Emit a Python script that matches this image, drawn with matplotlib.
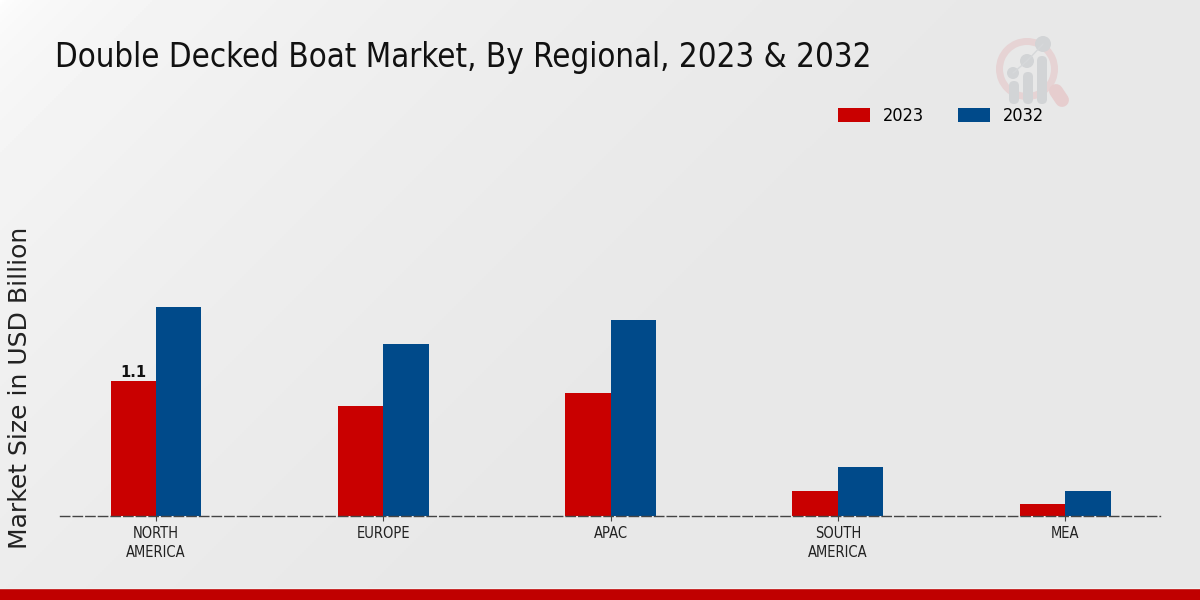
import matplotlib
matplotlib.use('Agg')
import matplotlib.pyplot as plt
import numpy as np
from matplotlib.patches import Circle, FancyBboxPatch, Wedge

regions = ['NORTH\nAMERICA', 'EUROPE', 'APAC', 'SOUTH\nAMERICA', 'MEA']
values_2023 = [1.1, 0.9, 1.0, 0.2, 0.1]
values_2032 = [1.7, 1.4, 1.6, 0.4, 0.2]
years = ['2023', '2032']

RED = '#C90000'
BLUE = '#004A8A'
W, H = 1200, 600

fig = plt.figure(figsize=(12, 6), dpi=100)

# background, pixel coords
bg = fig.add_axes([0, 0, 1, 1], zorder=0)
bg.axis('off')
xx, yy = np.meshgrid(np.linspace(0, 1, 600), np.linspace(0, 1, 300))
shade = np.clip((xx * 2 + yy) / 1.6, 0, 1) ** 0.4
grad = 1.0 - shade * 0.09
bg.imshow(grad, extent=(0, W, H, 0), cmap='gray', vmin=0, vmax=1, aspect='auto')
bg.axhspan(589, 600, color='#C00000', lw=0)
bg.axhline(588, color='#F0F0F0', lw=1)

# logo
bg.add_patch(Wedge((1027, 69), 31, 0, 360, width=7, fc='#E6D3D4', ec='none'))
bg.plot([1056, 1062], [91, 100], color='#E6CDCE', lw=10, solid_capstyle='round')
for x, top in [(1014, 81), (1028, 72), (1042, 56)]:
    bg.add_patch(FancyBboxPatch((x - 5, top), 10, 104 - top, boxstyle='round,pad=0,rounding_size=5',
                                fc='#D2D4D6', ec='none'))
bg.plot([1013, 1027, 1043], [73, 61, 44], color='#D6D8DA', lw=1)
for x, y, r in [(1013, 73, 6), (1027, 61, 7), (1043, 44, 8)]:
    bg.add_patch(Circle((x, y), r, fc='#D2D4D6', ec='none'))
bg.set_xlim(0, W)
bg.set_ylim(H, 0)

# chart
ax = fig.add_axes([60 / W, 1 - 516 / H, 1100 / W, 396 / H], zorder=1)
ax.patch.set_alpha(0)
x = np.arange(len(regions))
width = 0.2
ax.bar(x - width / 2, values_2023, width, color=RED, label=years[0])
ax.bar(x + width / 2, values_2032, width, color=BLUE, label=years[1])
ax.set_xlim(-0.4225, 4.4175)
ax.set_ylim(0, 396 / 122.7)
ax.text(x[0] - width / 2, values_2023[0] + 0.005, '1.1', ha='center', va='bottom',
        fontsize=10.5, fontweight='bold', color='#111111')

for s in ['top', 'right', 'left']:
    ax.spines[s].set_visible(False)
ax.spines['bottom'].set_linestyle((0, (6.7, 2.4)))
ax.spines['bottom'].set_color('#444444')
ax.spines['bottom'].set_linewidth(1)
ax.set_yticks([])
ax.set_xticks(x)
ax.set_xticklabels(regions, fontsize=10.5, stretch='condensed', family='DejaVu Sans',
                   color='#222222', linespacing=1.3)
ax.tick_params(axis='x', length=3.5, width=0.8, color='#444444', pad=4)

leg = ax.legend(loc='upper left', bbox_to_anchor=((838 - 60) / 1100, (516 - 107) / 396), ncol=2,
                frameon=False, fontsize=13, handlelength=1.77, handleheight=0.78,
                columnspacing=1.9, handletextpad=0.72, borderpad=0, borderaxespad=0)
for t in leg.get_texts():
    t.set_stretch('condensed')

fig.text(55 / W, 1 - 57 / H, 'Double Decked Boat Market, By Regional, 2023 & 2032', fontsize=23.7,
         stretch='condensed', va='center', ha='left', color='#111111')
fig.text(20 / W, 1 - 388 / H, 'Market Size in USD Billion', fontsize=18, rotation=90,
         va='center', ha='center', color='#222222')

fig.savefig('out.png', dpi=100)
